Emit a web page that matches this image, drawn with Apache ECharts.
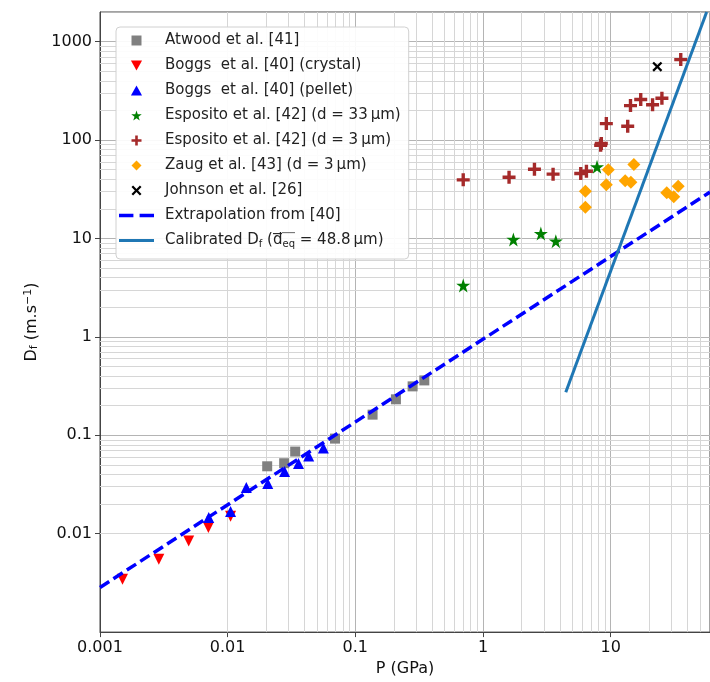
<!DOCTYPE html>
<html>
<head>
<meta charset="utf-8">
<script src="https://cdn.jsdelivr.net/npm/echarts@6/dist/echarts.min.js"></script>
<style>html,body{margin:0;padding:0;background:#fff;}#c{width:710px;height:682px;}</style>
</head>
<body>
<div id="c"></div>
<script>
// ---- data ----
const atwoodP = [0.0204, 0.0277, 0.0338, 0.0693, 0.1365, 0.208, 0.281, 0.347];
const atwoodD = [0.0484, 0.052, 0.0683, 0.0925, 0.162, 0.232, 0.314, 0.361];
const boggsCrystalP = [0.00150, 0.00289, 0.00495, 0.00706, 0.01054];
const boggsCrystalD = [0.00345, 0.00551, 0.00845, 0.01156, 0.0150];
const boggsPelletP = [0.00711, 0.01054, 0.0140, 0.0206, 0.0279, 0.0359, 0.0431, 0.0562];
const boggsPelletD = [0.0146, 0.0168, 0.0294, 0.0323, 0.0428, 0.0516, 0.0617, 0.0743];
const esposito33P = [0.70, 1.73, 2.84, 3.72, 7.82];
const esposito33D = [3.33, 9.77, 11.2, 9.39, 53.4];
const esposito3P = [0.70, 1.60, 2.53, 3.54, 5.83, 6.46, 8.35, 8.45, 9.25, 13.6, 14.3, 17.2, 21.3, 25.2, 35.4];
const esposito3D = [39.4, 41.9, 50.5, 45.0, 45.7, 48.2, 88.5, 92.1, 147, 138, 224, 258, 228, 266, 657];
const zaugP = [6.34, 6.34, 9.59, 9.25, 13.0, 14.4, 15.2, 27.5, 31.2, 33.8];
const zaugD = [30.2, 20.8, 49.8, 35.1, 38.5, 37.3, 56.4, 29.1, 26.5, 34.0];
const johnsonP = [23.2];
const johnsonD = [557];
const extrapP = [0.001, 60];
const extrapD = [0.00284, 29.6];
const calibP = [4.45, 56.5];
const calibD = [0.273, 2000];
const xTickLabels = ['0.001', '0.01', '0.1', '1', '10'];
const yTickLabels = ['0.01', '0.1', '1', '10', '100', '1000'];

const names = [
  'Atwood et al. [41]',
  'Boggs  et al. [40] (crystal)',
  'Boggs  et al. [40] (pellet)',
  'Esposito et al. [42] (d = 33\u2009\u03bcm)',
  'Esposito et al. [42] (d = 3\u2009\u03bcm)',
  'Zaug et al. [43] (d = 3\u2009\u03bcm)',
  'Johnson et al. [26]',
  'Extrapolation from [40]',
  'Calibrated'
];

const zip = (a, b) => a.map((v, i) => [v, b[i]]);
const FONT = 'DejaVu Sans';

const RECT = 'path://M0,0 L100,0 L100,100 L0,100 Z';
const TRI_UP = 'path://M50,0 L100,90 L0,90 Z';
const TRI_DOWN = 'path://M0,0 L100,0 L50,90 Z';
const DIAMOND = 'path://M50,0 L100,50 L50,100 L0,50 Z';
const STAR = 'path://M50,0 L61.2,34.5 L97.6,34.5 L68.2,55.9 L79.4,90.5 L50,69.1 L20.6,90.5 L31.8,55.9 L2.4,34.5 L38.8,34.5 Z';
const PLUS = 'path://M37,0 L63,0 L63,37 L100,37 L100,63 L63,63 L63,100 L37,100 L37,63 L0,63 L0,37 L37,37 Z';
const XMARK = 'path://M0,16 L16,0 L50,34 L84,0 L100,16 L66,50 L100,84 L84,100 L50,66 L16,100 L0,84 L34,50 Z';
const DASH_ICON = 'path://M0,0 L14,0 L14,3.4 L0,3.4 Z M20,0 L34,0 L34,3.4 L20,3.4 Z';
const LINE_ICON = 'path://M0,0 L35,0 L35,3 L0,3 Z';

// overline image for rich text (a thin line on the top row)
const ovCanvas = document.createElement('canvas');
ovCanvas.width = 4; ovCanvas.height = 18;
(function () { const g = ovCanvas.getContext('2d'); g.fillStyle = '#222'; g.fillRect(0, 0, 4, 1.2); })();

// minor grid positions (2..9 x decade)
const minorX = [], minorY = [];
for (let k = -3; k <= 1; k++) for (let m = 2; m <= 9; m++) { const v = m * Math.pow(10, k); if (v < 60) minorX.push(v); }
for (let k = -3; k <= 3; k++) for (let m = 2; m <= 9; m++) { const v = m * Math.pow(10, k); if (v < 2000) minorY.push(v); }

function fmtFactory(list) {
  return function (v) {
    const l = Math.log10(v);
    const e = Math.round(l);
    if (Math.abs(l - e) > 1e-6) return '';
    const s = e < 0 ? v.toFixed(-e) : String(Math.round(v));
    return list.indexOf(s) >= 0 ? s : '';
  };
}

const chart = echarts.init(document.getElementById('c'));
const option = {
  animation: false,
  textStyle: { fontFamily: FONT },
  grid: { left: 100, top: 12, width: 612, height: 621, show: true, borderColor: '#444', borderWidth: 1, backgroundColor: 'transparent' },
  xAxis: {
    type: 'log', logBase: 10, min: 0.001, max: 60,
    name: 'P (GPa)', nameLocation: 'middle', nameGap: 24,
    nameTextStyle: { fontSize: 16, color: '#111', fontFamily: FONT },
    axisLine: { show: true, lineStyle: { color: '#444', width: 1 } },
    axisTick: { show: true, inside: false, length: 5, lineStyle: { color: '#444' } },
    axisLabel: { fontSize: 16, color: '#111', margin: 8, fontFamily: FONT, formatter: fmtFactory(xTickLabels), showMaxLabel: false },
    splitLine: { show: true, lineStyle: { color: '#b4b4b4', width: 1 } }
  },
  yAxis: {
    type: 'log', logBase: 10, min: 0.001, max: 2000,
    name: 'D{sub|f} (m.s{sup|\u22121})', nameLocation: 'middle', nameGap: 60, nameRotate: 90,
    nameTextStyle: {
      fontSize: 16, color: '#111', fontFamily: FONT,
      rich: {
        sub: { fontSize: 11, fontFamily: FONT, color: '#111', padding: [6, 0, 0, 0], verticalAlign: 'bottom' },
        sup: { fontSize: 11, fontFamily: FONT, color: '#111', padding: [0, 0, 6, 0], verticalAlign: 'top' }
      }
    },
    axisLine: { show: true, lineStyle: { color: '#444', width: 1 } },
    axisTick: { show: true, inside: false, length: 5, lineStyle: { color: '#444' } },
    axisLabel: { fontSize: 16, color: '#111', margin: 8, fontFamily: FONT, formatter: fmtFactory(yTickLabels), showMaxLabel: false, showMinLabel: false },
    splitLine: { show: true, lineStyle: { color: '#b4b4b4', width: 1 } }
  },
  legend: {
    orient: 'vertical', left: 116, top: 27, z: 50,
    data: names.map(function (n, i) {
      if (i === 7) return { name: n, icon: DASH_ICON, itemStyle: { color: '#0000ff' } };
      if (i === 8) return { name: n, icon: LINE_ICON, itemStyle: { color: '#1f77b4' } };
      return { name: n };
    }),
    backgroundColor: 'rgba(255,255,255,0.92)', borderColor: '#d0d0d0', borderWidth: 1, borderRadius: 4,
    padding: [1, 8, 6, 3],
    itemWidth: 35, itemHeight: 10, itemGap: 0,
    textStyle: {
      fontSize: 15, lineHeight: 25, color: '#222', fontFamily: FONT, padding: [0, 0, 0, 6],
      rich: {
        n: { fontSize: 15, fontFamily: FONT, color: '#222' },
        sub: { fontSize: 10, fontFamily: FONT, color: '#222', lineHeight: 10, padding: [8, 0, 0, 0], verticalAlign: 'middle' },
        ov: { fontSize: 15, fontFamily: FONT, color: '#222', lineHeight: 18, verticalAlign: 'middle', backgroundColor: { image: ovCanvas } },
        ovsub: { fontSize: 10, fontFamily: FONT, color: '#222', lineHeight: 10, padding: [8, 0, 0, 0], verticalAlign: 'middle', backgroundColor: { image: ovCanvas } }
      }
    },
    formatter: function (name) {
      if (name === 'Calibrated') return '{n|Calibrated D}{sub|f}{n| (}{ov|d}{ovsub|eq}{n| = 48.8\u2009\u03bcm)}';
      return name;
    }
  },
  series: [
    {
      type: 'scatter', name: '__grid', data: [], z: 0, silent: true,
      markLine: {
        z: 1, silent: true, symbol: ['none', 'none'], animation: false,
        label: { show: false },
        lineStyle: { color: '#d6d6d6', width: 1, type: 'solid' },
        emphasis: { disabled: true },
        data: minorX.map(v => ({ xAxis: v })).concat(minorY.map(v => ({ yAxis: v })))
      }
    },
    { type: 'scatter', name: names[0], data: zip(atwoodP, atwoodD), symbol: RECT, symbolSize: 10, itemStyle: { color: '#808080', opacity: 1 }, z: 3 },
    { type: 'scatter', name: names[1], data: zip(boggsCrystalP, boggsCrystalD), symbol: TRI_DOWN, symbolSize: 11, itemStyle: { color: '#ff0000', opacity: 1 }, z: 3 },
    { type: 'scatter', name: names[2], data: zip(boggsPelletP, boggsPelletD), symbol: TRI_UP, symbolSize: 11, itemStyle: { color: '#0000ff', opacity: 1 }, z: 3 },
    { type: 'scatter', name: names[3], data: zip(esposito33P, esposito33D), symbol: STAR, symbolSize: 14, itemStyle: { color: '#008000', opacity: 1 }, z: 3 },
    { type: 'scatter', name: names[4], data: zip(esposito3P, esposito3D), symbol: PLUS, symbolSize: 13, itemStyle: { color: '#a52a2a', opacity: 1 }, z: 3 },
    { type: 'scatter', name: names[5], data: zip(zaugP, zaugD), symbol: DIAMOND, symbolSize: 13, itemStyle: { color: '#ffa500', opacity: 1 }, z: 3 },
    { type: 'scatter', name: names[6], data: zip(johnsonP, johnsonD), symbol: XMARK, symbolSize: 10, itemStyle: { color: '#000000', opacity: 1 }, z: 3 },
    { type: 'line', name: names[7], data: zip(extrapP, extrapD), symbol: 'none', showSymbol: false, clip: true,
      lineStyle: { color: '#0000ff', width: 3.5, type: [11, 5] }, itemStyle: { color: '#0000ff' }, z: 4 },
    { type: 'line', name: names[8], data: zip(calibP, calibD), symbol: 'none', showSymbol: false, clip: true,
      lineStyle: { color: '#1f77b4', width: 3, type: 'solid' }, itemStyle: { color: '#1f77b4' }, z: 4 }
  ]
};
chart.setOption(option);
</script>
</body>
</html>
